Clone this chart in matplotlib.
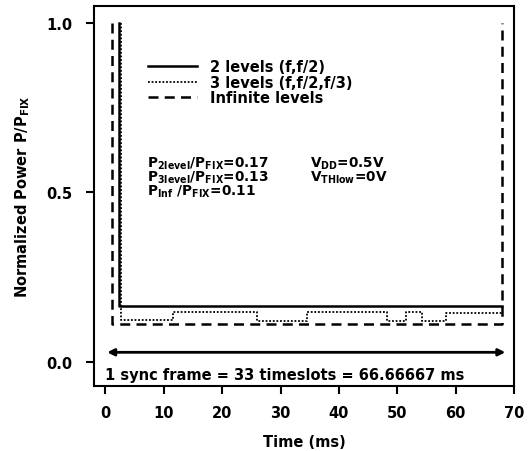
import matplotlib
matplotlib.use("Agg")
import matplotlib.pyplot as plt

plt.rcParams['font.family'] = ['DejaVu Sans']
plt.rcParams['font.weight'] = 'bold'
plt.rcParams['mathtext.default'] = 'bf'

# 2 levels (f, f/2) - solid
t_2lvl = [2.3, 2.3, 68.0]
p_2lvl = [1.0, 0.165, 0.165]

# 3 levels (f, f/2, f/3) - dotted, steps
t_3lvl = [2.6, 2.6, 11.5, 11.5, 26.0, 26.0, 34.6, 34.6, 48.3, 48.3, 51.5, 51.5, 54.3, 54.3, 58.3, 58.3, 68.0]
p_3lvl = [1.0, 0.125, 0.125, 0.148, 0.148, 0.122, 0.122, 0.148, 0.148, 0.12, 0.12, 0.148, 0.148, 0.12, 0.12, 0.145, 0.145]

# infinite levels - dashed
t_inf = [1.1, 1.1, 68.0, 68.0]
p_inf = [1.0, 0.113, 0.113, 1.0]

frame_ms = [0.3, 68.5]   # sync frame arrow ends (as drawn)
frame_y = 0.029

xticks = [0, 10, 20, 30, 40, 50, 60, 70]
yticks = [0.0, 0.5, 1.0]

power_lines = [r'P$_{2level}$/P$_{FIX}$=0.17',
               r'P$_{3level}$/P$_{FIX}$=0.13',
               r'P$_{Inf}$ /P$_{FIX}$=0.11']
volt_lines = [r'V$_{DD}$=0.5V', r'V$_{THlow}$=0V']

fig = plt.figure(figsize=(5.30, 4.52), dpi=100)
ax = fig.add_axes([0.178, 0.144, 0.792, 0.841])

ax.plot(t_2lvl, p_2lvl, color='black', lw=1.8, ls='-', label='2 levels (f,f/2)')
ax.plot(t_3lvl, p_3lvl, color='black', lw=1.3, ls=(0, (1, 1)), label='3 levels (f,f/2,f/3)')
ax.plot(t_inf, p_inf, color='black', lw=1.8, ls=(0, (4, 2.5)), label='Infinite levels')

ax.annotate('', xy=(frame_ms[1], frame_y), xytext=(frame_ms[0], frame_y),
            arrowprops=dict(arrowstyle='<|-|>', color='black', lw=2,
                            mutation_scale=10, shrinkA=0, shrinkB=0))
ax.text(0.0, -0.036, '1 sync frame = 33 timeslots = 66.66667 ms',
        fontsize=10.5, fontweight='bold', va='center', ha='left')

# parameter blocks, one text each
ax.text(7.1, 0.612, '\n'.join(power_lines), fontsize=9.8, va='top', linespacing=0.8)
ax.text(35.0, 0.612, '\n'.join(volt_lines), fontsize=9.8, va='top', linespacing=0.8)

ax.legend(loc='upper left', bbox_to_anchor=(0.129, 0.86), frameon=False,
          fontsize=10.5, handlelength=3.3, handletextpad=0.9,
          labelspacing=0.05, borderpad=0, borderaxespad=0)

ax.set_xlim(-1.9, 69.8)
ax.set_ylim(-0.07, 1.05)
ax.set_xticks(xticks)
ax.set_yticks(yticks)
ax.set_yticklabels(['0.0', '0.5', '1.0'])
ax.tick_params(direction='out', length=6, width=1.5, labelsize=10.5)
ax.tick_params(axis='y', pad=10)
ax.tick_params(axis='x', pad=8)
for sp in ax.spines.values():
    sp.set_linewidth(1.5)

ax.set_xlabel('Time (ms)', fontsize=10.5, fontweight='bold', labelpad=10)
ax.set_ylabel(r'Normalized Power P/P$_{FIX}$', fontsize=10.5, fontweight='bold', labelpad=10)

fig.savefig('out.png', dpi=100)
